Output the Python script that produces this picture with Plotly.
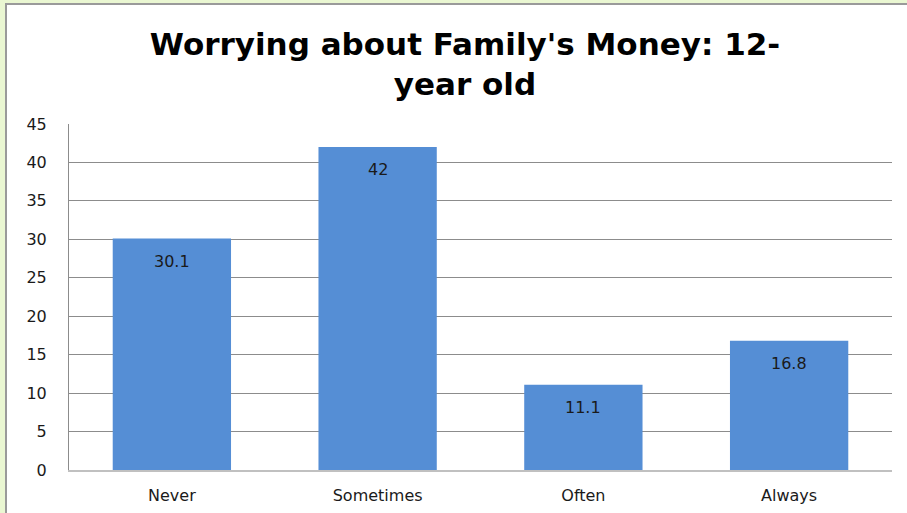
import plotly.graph_objects as go

categories = ["Never", "Sometimes", "Often", "Always"]
values = [30.1, 42, 11.1, 16.8]
y_ticks = [0, 5, 10, 15, 20, 25, 30, 35, 40, 45]

W, H = 907, 513
ML, MR, MT, MB = 69, 15, 124, 43
pw, ph = W - ML - MR, H - MT - MB

LABEL_FONT = dict(family="DejaVu Sans", size=16, color="#1a1a1a")


def px_x(p):
    return (p - ML) / pw


def px_y(p):
    return (H - MB - p) / ph


fig = go.Figure(
    go.Bar(
        x=categories,
        y=values,
        marker=dict(color="#558ED5", line=dict(width=0)),
        width=0.575,
        hoverinfo="x+y",
    )
)

# value labels just inside the top of each bar
for c, v in zip(categories, values):
    fig.add_annotation(
        x=c, y=v, text=f"{v:g}", showarrow=False,
        yanchor="top", yshift=-11, font=LABEL_FONT,
    )

# white chart panel with grey frame over a pale green page
fig.add_shape(
    type="rect", xref="paper", yref="paper",
    x0=px_x(6), x1=px_x(W + 10), y0=px_y(H + 10), y1=px_y(4),
    fillcolor="white", line=dict(color="#9a9a9a", width=2), layer="below",
)

fig.update_layout(
    width=W, height=H,
    margin=dict(l=ML, r=MR, t=MT, b=MB, autoexpand=False),
    paper_bgcolor="#EAF7D2",
    plot_bgcolor="rgba(0,0,0,0)",
    showlegend=False,
    title=dict(
        text="Worrying about Family's Money: 12-<br>year old",
        x=465 / W, xanchor="center",
        y=1 - 55 / H, yanchor="middle",
        font=dict(family="DejaVu Sans", size=31, color="black", weight="bold"),
    ),
    xaxis=dict(
        automargin=False,
        showgrid=False,
        showline=True, linecolor="#c0c0c0", linewidth=2,
        ticks="outside", ticklen=10, tickcolor="rgba(0,0,0,0)",
        tickfont=dict(family="DejaVu Sans", size=16, color="#1a1a1a"),
    ),
    yaxis=dict(
        automargin=False,
        range=[0, 45], tickvals=y_ticks,
        showgrid=True, gridcolor="#8c8c8c", gridwidth=1,
        showline=True, linecolor="#8c8c8c", linewidth=1,
        zeroline=False,
        ticks="outside", ticklen=18, tickcolor="rgba(0,0,0,0)",
        tickfont=dict(family="DejaVu Sans", size=16, color="#1a1a1a"),
    ),
)

fig.write_html("out.html")
